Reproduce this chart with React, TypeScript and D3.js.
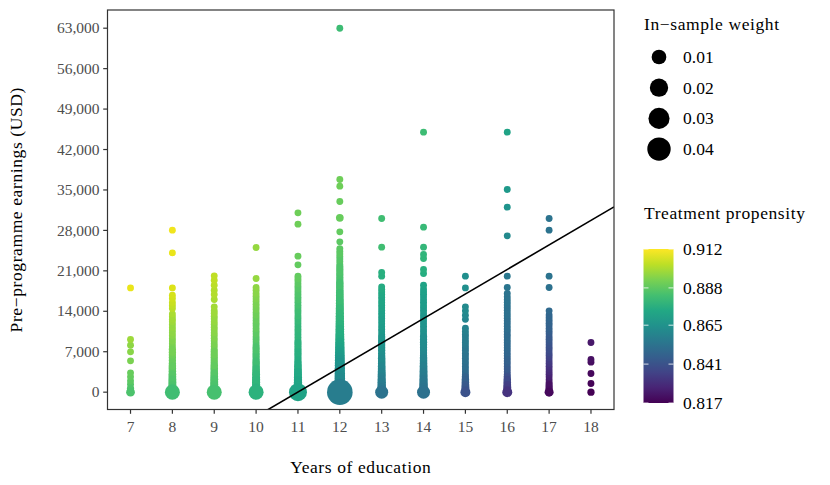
import React from "react";
import * as d3 from "d3";

// [earnings (USD), treatment propensity, in-sample weight]
type Pt = [number, number, number];

const EDUCATION = [7, 8, 9, 10, 11, 12, 13, 14, 15, 16, 17, 18];
const EARNINGS_TICKS = [0, 7000, 14000, 21000, 28000, 35000, 42000, 49000, 56000, 63000];
const WEIGHT_BREAKS = [0.01, 0.02, 0.03, 0.04];
const PROPENSITY_BREAKS = [0.817, 0.841, 0.865, 0.888, 0.912];
const FIT = { intercept: -46660, slope: 4244 };

const EDU_7: Pt[] = [
  [0, 0.885, 0.001], [650, 0.886, 0.0002], [1380, 0.887, 0.0001], [1960, 0.888, 0.0001],
  [2650, 0.889, 0.0001], [3340, 0.89, 0.0001], [5420, 0.893, 0.0001], [6980, 0.895, 0.0001],
  [8130, 0.896, 0.0001], [9120, 0.898, 0.0001], [18050, 0.909, 0.0001],
];

const EDU_8: Pt[] = [
  [0, 0.883, 0.0107], [300, 0.884, 0.0008], [750, 0.884, 0.0007], [1200, 0.885, 0.0006],
  [1700, 0.885, 0.0005], [2200, 0.886, 0.0005], [2650, 0.886, 0.0004], [3100, 0.887, 0.0004],
  [3600, 0.888, 0.0003], [4100, 0.888, 0.0003], [4550, 0.889, 0.0003], [5000, 0.889, 0.0002],
  [5500, 0.89, 0.0002], [6000, 0.89, 0.0002], [6450, 0.891, 0.0002], [6900, 0.892, 0.0002],
  [7400, 0.892, 0.0002], [7900, 0.893, 0.0001], [8400, 0.893, 0.0001], [8850, 0.894, 0.0001],
  [9300, 0.894, 0.0001], [9800, 0.895, 0.0001], [10300, 0.896, 0.0001], [10750, 0.896, 0.0001],
  [11200, 0.897, 0.0001], [11700, 0.897, 0.0001], [12200, 0.898, 0.0001], [12600, 0.899, 0.0001],
  [13040, 0.899, 0.0001], [13550, 0.9, 0.0001], [14490, 0.902, 0.0001], [15000, 0.903, 0.0001],
  [15530, 0.904, 0.0001], [16220, 0.905, 0.0001], [16790, 0.906, 0.0001], [18050, 0.907, 0.0001],
  [24110, 0.909, 0.0001], [28040, 0.91, 0.0001],
];

const EDU_9: Pt[] = [
  [0, 0.884, 0.0107], [350, 0.884, 0.0008], [800, 0.885, 0.0007], [1300, 0.885, 0.0006],
  [1750, 0.886, 0.0005], [2250, 0.886, 0.0005], [2700, 0.887, 0.0004], [3200, 0.887, 0.0004],
  [3650, 0.888, 0.0003], [4150, 0.888, 0.0003], [4600, 0.889, 0.0003], [5100, 0.889, 0.0002],
  [5550, 0.89, 0.0002], [6050, 0.89, 0.0002], [6500, 0.891, 0.0002], [7000, 0.891, 0.0002],
  [7450, 0.892, 0.0001], [7950, 0.892, 0.0001], [8400, 0.893, 0.0001], [8900, 0.893, 0.0001],
  [9350, 0.894, 0.0001], [9850, 0.894, 0.0001], [10300, 0.895, 0.0001], [10800, 0.895, 0.0001],
  [11250, 0.896, 0.0001], [11750, 0.896, 0.0001], [12200, 0.897, 0.0001], [12700, 0.897, 0.0001],
  [13150, 0.897, 0.0001], [13650, 0.898, 0.0001], [14100, 0.898, 0.0001], [14770, 0.899, 0.0001],
  [16050, 0.9, 0.0001], [16910, 0.901, 0.0001], [17660, 0.901, 0.0001], [18520, 0.902, 0.0001],
  [19390, 0.903, 0.0001], [20130, 0.903, 0.0001],
];

const EDU_10: Pt[] = [
  [0, 0.878, 0.0107], [300, 0.878, 0.0009], [750, 0.878, 0.0008], [1250, 0.879, 0.0007],
  [1700, 0.879, 0.0006], [2150, 0.879, 0.0006], [2600, 0.88, 0.0005], [3100, 0.88, 0.0005],
  [3550, 0.881, 0.0004], [4000, 0.881, 0.0004], [4500, 0.882, 0.0003], [4950, 0.882, 0.0003],
  [5400, 0.883, 0.0003], [5900, 0.883, 0.0002], [6350, 0.884, 0.0002], [6800, 0.884, 0.0002],
  [7300, 0.885, 0.0002], [7750, 0.885, 0.0002], [8200, 0.886, 0.0001], [8700, 0.886, 0.0001],
  [9150, 0.887, 0.0001], [9600, 0.887, 0.0001], [10100, 0.888, 0.0001], [10550, 0.888, 0.0001],
  [11000, 0.889, 0.0001], [11500, 0.889, 0.0001], [11950, 0.889, 0.0001], [12400, 0.89, 0.0001],
  [12900, 0.89, 0.0001], [13350, 0.891, 0.0001], [13800, 0.891, 0.0001], [14300, 0.892, 0.0001],
  [14750, 0.892, 0.0001], [15200, 0.893, 0.0001], [15700, 0.893, 0.0001], [16150, 0.894, 0.0001],
  [16600, 0.894, 0.0001], [17100, 0.895, 0.0001], [17660, 0.895, 0.0001], [18120, 0.896, 0.0001],
  [19680, 0.897, 0.0001], [25040, 0.897, 0.0001],
];

const EDU_11: Pt[] = [
  [0, 0.872, 0.019], [300, 0.872, 0.0012], [750, 0.872, 0.001], [1200, 0.873, 0.0009],
  [1650, 0.873, 0.0008], [2100, 0.873, 0.0007], [2600, 0.874, 0.0006], [3050, 0.874, 0.0005],
  [3500, 0.874, 0.0005], [3950, 0.875, 0.0004], [4450, 0.875, 0.0004], [4900, 0.875, 0.0003],
  [5350, 0.876, 0.0002], [5800, 0.876, 0.0002], [6300, 0.876, 0.0002], [6750, 0.877, 0.0002],
  [7200, 0.877, 0.0002], [7650, 0.877, 0.0002], [8150, 0.878, 0.0002], [8600, 0.878, 0.0002],
  [9050, 0.878, 0.0001], [9500, 0.879, 0.0001], [10000, 0.879, 0.0001], [10450, 0.879, 0.0001],
  [10900, 0.88, 0.0001], [11350, 0.88, 0.0001], [11850, 0.88, 0.0001], [12300, 0.881, 0.0001],
  [12750, 0.881, 0.0001], [13200, 0.882, 0.0001], [13700, 0.882, 0.0001], [14150, 0.883, 0.0001],
  [14600, 0.883, 0.0001], [15050, 0.884, 0.0001], [15550, 0.884, 0.0001], [16000, 0.885, 0.0001],
  [16450, 0.885, 0.0001], [16900, 0.886, 0.0001], [17400, 0.886, 0.0001], [17850, 0.887, 0.0001],
  [18300, 0.887, 0.0001], [18750, 0.888, 0.0001], [19250, 0.888, 0.0001], [19650, 0.889, 0.0001],
  [20080, 0.889, 0.0001], [22040, 0.889, 0.0001], [23540, 0.89, 0.0001], [29080, 0.891, 0.0001],
  [31040, 0.891, 0.0001],
];

const EDU_12: Pt[] = [
  [0, 0.857, 0.0508], [200, 0.858, 0.0036], [600, 0.859, 0.0034], [1000, 0.86, 0.0032],
  [1450, 0.861, 0.003], [1900, 0.862, 0.0029], [2350, 0.862, 0.0028], [2800, 0.863, 0.0027],
  [3250, 0.864, 0.0026], [3700, 0.864, 0.0025], [4150, 0.865, 0.0024], [4600, 0.866, 0.0023],
  [5050, 0.866, 0.0022], [5500, 0.867, 0.0021], [5950, 0.868, 0.002], [6400, 0.869, 0.0019],
  [6850, 0.87, 0.0018], [7300, 0.871, 0.0017], [7750, 0.872, 0.0016], [8200, 0.873, 0.0015],
  [8650, 0.874, 0.0014], [9100, 0.875, 0.0013], [9550, 0.876, 0.0012], [10000, 0.876, 0.0011],
  [10450, 0.877, 0.001], [10900, 0.877, 0.001], [11350, 0.878, 0.0009], [11800, 0.878, 0.0009],
  [12250, 0.879, 0.0008], [12700, 0.879, 0.0008], [13150, 0.88, 0.0007], [13600, 0.88, 0.0007],
  [14050, 0.881, 0.0006], [14500, 0.881, 0.0006], [14950, 0.881, 0.0005], [15400, 0.882, 0.0005],
  [15850, 0.882, 0.0005], [16300, 0.882, 0.0004], [16750, 0.883, 0.0004], [17200, 0.883, 0.0004],
  [17650, 0.883, 0.0003], [18100, 0.884, 0.0003], [18550, 0.884, 0.0003], [19000, 0.884, 0.0003],
  [19450, 0.885, 0.0002], [19900, 0.885, 0.0002], [20350, 0.885, 0.0002], [20800, 0.886, 0.0002],
  [21250, 0.886, 0.0002], [21700, 0.886, 0.0002], [22150, 0.887, 0.0001], [22600, 0.887, 0.0001],
  [23050, 0.887, 0.0001], [23500, 0.887, 0.0001], [23950, 0.888, 0.0001], [24400, 0.888, 0.0001],
  [24850, 0.888, 0.0001], [26020, 0.888, 0.0001], [27750, 0.889, 0.0001], [30170, 0.89, 0.0004],
  [33010, 0.89, 0.0001], [35660, 0.891, 0.0001], [36820, 0.891, 0.0001], [63000, 0.882, 0.0001],
];

const EDU_13: Pt[] = [
  [0, 0.853, 0.0065], [350, 0.854, 0.0012], [800, 0.855, 0.001], [1250, 0.856, 0.0009],
  [1700, 0.857, 0.0008], [2150, 0.857, 0.0007], [2650, 0.858, 0.0006], [3100, 0.859, 0.0005],
  [3550, 0.86, 0.0005], [4000, 0.86, 0.0004], [4450, 0.861, 0.0004], [4950, 0.862, 0.0003],
  [5400, 0.862, 0.0003], [5850, 0.863, 0.0003], [6300, 0.863, 0.0002], [6750, 0.864, 0.0002],
  [7250, 0.864, 0.0002], [7700, 0.865, 0.0002], [8150, 0.865, 0.0002], [8600, 0.866, 0.0002],
  [9050, 0.866, 0.0002], [9550, 0.867, 0.0002], [10000, 0.867, 0.0001], [10450, 0.868, 0.0001],
  [10900, 0.868, 0.0001], [11350, 0.869, 0.0001], [11850, 0.869, 0.0001], [12300, 0.87, 0.0001],
  [12750, 0.87, 0.0001], [13200, 0.87, 0.0001], [13650, 0.871, 0.0001], [14150, 0.871, 0.0001],
  [14600, 0.872, 0.0001], [15050, 0.872, 0.0001], [15500, 0.873, 0.0001], [15950, 0.873, 0.0001],
  [16450, 0.873, 0.0001], [16900, 0.874, 0.0001], [17350, 0.874, 0.0001], [17800, 0.875, 0.0001],
  [18230, 0.875, 0.0001], [20080, 0.877, 0.0001], [20720, 0.877, 0.0001], [25100, 0.883, 0.0001],
  [30070, 0.883, 0.0001],
];

const EDU_14: Pt[] = [
  [0, 0.852, 0.0065], [400, 0.853, 0.0012], [850, 0.853, 0.001], [1300, 0.854, 0.0009],
  [1750, 0.855, 0.0008], [2200, 0.855, 0.0007], [2700, 0.856, 0.0006], [3150, 0.857, 0.0005],
  [3600, 0.857, 0.0005], [4050, 0.858, 0.0004], [4500, 0.858, 0.0004], [5000, 0.859, 0.0003],
  [5450, 0.859, 0.0003], [5900, 0.86, 0.0003], [6350, 0.86, 0.0002], [6800, 0.861, 0.0002],
  [7300, 0.861, 0.0002], [7750, 0.862, 0.0002], [8200, 0.862, 0.0002], [8650, 0.863, 0.0002],
  [9100, 0.863, 0.0002], [9600, 0.864, 0.0002], [10050, 0.864, 0.0001], [10500, 0.865, 0.0001],
  [10950, 0.865, 0.0001], [11400, 0.865, 0.0001], [11900, 0.866, 0.0001], [12350, 0.866, 0.0001],
  [12800, 0.867, 0.0001], [13250, 0.867, 0.0001], [13700, 0.867, 0.0001], [14200, 0.868, 0.0001],
  [14650, 0.868, 0.0001], [15100, 0.869, 0.0001], [15550, 0.869, 0.0001], [16000, 0.869, 0.0001],
  [16500, 0.87, 0.0001], [16950, 0.87, 0.0001], [17400, 0.871, 0.0001], [17850, 0.871, 0.0001],
  [18520, 0.872, 0.0001], [20550, 0.876, 0.0001], [21240, 0.877, 0.0001], [23140, 0.879, 0.0001],
  [23830, 0.879, 0.0001], [25100, 0.88, 0.0001], [28560, 0.881, 0.0001], [45010, 0.882, 0.0001],
];

const EDU_15: Pt[] = [
  [0, 0.841, 0.0021], [350, 0.842, 0.0006], [800, 0.843, 0.0005], [1250, 0.844, 0.0004],
  [1700, 0.845, 0.0003], [2150, 0.846, 0.0003], [2650, 0.847, 0.0002], [3100, 0.849, 0.0001],
  [3550, 0.849, 0.0001], [4000, 0.85, 0.0001], [4450, 0.851, 0.0001], [4950, 0.851, 0.0001],
  [5400, 0.852, 0.0001], [5850, 0.852, 0.0001], [6300, 0.853, 0.0001], [6750, 0.853, 0.0001],
  [7250, 0.854, 0.0001], [7700, 0.854, 0.0001], [8150, 0.855, 0.0001], [8600, 0.856, 0.0001],
  [9050, 0.856, 0.0001], [9550, 0.857, 0.0001], [10000, 0.857, 0.0001], [10500, 0.858, 0.0001],
  [11080, 0.859, 0.0001], [12600, 0.86, 0.0001], [13330, 0.861, 0.0001], [14080, 0.862, 0.0001],
  [14770, 0.862, 0.0001], [18050, 0.864, 0.0001], [20080, 0.864, 0.0001],
];

const EDU_16: Pt[] = [
  [0, 0.831, 0.0021], [350, 0.832, 0.0006], [800, 0.834, 0.0005], [1250, 0.835, 0.0004],
  [1700, 0.837, 0.0003], [2150, 0.838, 0.0003], [2650, 0.84, 0.0002], [3100, 0.841, 0.0001],
  [3550, 0.842, 0.0001], [4000, 0.843, 0.0001], [4450, 0.844, 0.0001], [4950, 0.845, 0.0001],
  [5400, 0.846, 0.0001], [5850, 0.846, 0.0001], [6300, 0.847, 0.0001], [6750, 0.848, 0.0001],
  [7250, 0.848, 0.0001], [7700, 0.849, 0.0001], [8150, 0.849, 0.0001], [8600, 0.849, 0.0001],
  [9050, 0.85, 0.0001], [9550, 0.85, 0.0001], [10000, 0.85, 0.0001], [10500, 0.85, 0.0001],
  [10950, 0.851, 0.0001], [11400, 0.851, 0.0001], [11900, 0.851, 0.0001], [12350, 0.851, 0.0001],
  [12800, 0.851, 0.0001], [13250, 0.852, 0.0001], [13700, 0.852, 0.0001], [14200, 0.852, 0.0001],
  [14650, 0.852, 0.0001], [15100, 0.852, 0.0001], [15550, 0.853, 0.0001], [16000, 0.853, 0.0001],
  [16500, 0.853, 0.0001], [17080, 0.853, 0.0001], [18120, 0.854, 0.0001], [20080, 0.855, 0.0001],
  [27060, 0.862, 0.0001], [32020, 0.866, 0.0001], [35090, 0.868, 0.0001], [45010, 0.872, 0.0001],
];

const EDU_17: Pt[] = [
  [0, 0.819, 0.0012], [350, 0.82, 0.0003], [800, 0.82, 0.0002], [1250, 0.821, 0.0002],
  [1700, 0.822, 0.0001], [2150, 0.823, 0.0001], [2650, 0.825, 0.0001], [3100, 0.826, 0.0001],
  [3550, 0.828, 0.0001], [4000, 0.829, 0.0001], [4500, 0.83, 0.0001], [4950, 0.832, 0.0001],
  [5400, 0.833, 0.0001], [5900, 0.835, 0.0001], [6350, 0.836, 0.0001], [6800, 0.838, 0.0001],
  [7300, 0.839, 0.0001], [7750, 0.84, 0.0001], [8200, 0.841, 0.0001], [8700, 0.842, 0.0001],
  [9150, 0.843, 0.0001], [9600, 0.843, 0.0001], [10100, 0.844, 0.0001], [10550, 0.845, 0.0001],
  [11000, 0.846, 0.0001], [11500, 0.846, 0.0001], [11950, 0.847, 0.0001], [12400, 0.847, 0.0001],
  [12900, 0.848, 0.0001], [13350, 0.848, 0.0001], [14080, 0.849, 0.0001], [18120, 0.852, 0.0001],
  [20080, 0.853, 0.0001], [28040, 0.853, 0.0001], [30070, 0.853, 0.0001],
];

const EDU_18: Pt[] = [
  [0, 0.817, 0.0002], [1500, 0.818, 0.0001], [3240, 0.819, 0.0001], [5190, 0.82, 0.0001],
  [5660, 0.821, 0.0001], [8600, 0.823, 0.0001],
];

const COLUMNS: Pt[][] = [EDU_7, EDU_8, EDU_9, EDU_10, EDU_11, EDU_12, EDU_13, EDU_14, EDU_15, EDU_16, EDU_17, EDU_18];

const W = 830;
const H = 485;
const PANEL = { left: 107.5, right: 614, top: 10, bottom: 409.5 };
const SERIF = "'Liberation Serif', 'Times New Roman', serif";
const INK = "#333333";

export default function App() {
  const x = d3.scaleLinear().domain([6.45, 18.55]).range([PANEL.left, PANEL.right]);
  const y = d3.scaleLinear().domain([-3000, 66150]).range([PANEL.bottom, PANEL.top]);
  const r = d3.scaleSqrt().domain([0, 0.04]).range([3.0, 11.7]);
  const colour = d3.scaleSequential(d3.interpolateViridis).domain([0.817, 0.912]);
  const fmt = d3.format(",");

  const points = COLUMNS.flatMap((col, i) =>
    col.map(([earn, prop, w]) => ({ edu: EDUCATION[i], earn, prop, w })),
  ).sort((a, b) => a.w - b.w);

  const xs = x.domain();
  const fitLine = d3
    .line<number>()
    .x((e) => x(e))
    .y((e) => y(FIT.intercept + FIT.slope * e))([xs[0], xs[1]]);

  // colour bar
  const bar = { x: 643.5, w: 30, top: 249, bottom: 403 };
  const barY = d3.scaleLinear().domain([0.817, 0.912]).range([bar.bottom, bar.top]);
  const stops = d3.range(0, 1.0001, 0.1);

  return (
    <svg width={W} height={H} style={{ position: "absolute", left: 0, top: 0, background: "#fff" }}>
      <defs>
        <clipPath id="panel-clip">
          <rect x={PANEL.left} y={PANEL.top} width={PANEL.right - PANEL.left} height={PANEL.bottom - PANEL.top} />
        </clipPath>
        <linearGradient id="viridis-bar" x1={0} x2={0} y1={1} y2={0}>
          {stops.map((t) => (
            <stop key={t} offset={`${t * 100}%`} stopColor={d3.interpolateViridis(t)} />
          ))}
        </linearGradient>
      </defs>

      <rect x={0} y={0} width={W} height={H} fill="#fff" />

      <g clipPath="url(#panel-clip)">
        {points.map((p, i) => (
          <circle key={i} cx={x(p.edu)} cy={y(p.earn)} r={r(p.w)} fill={colour(p.prop)} />
        ))}
        <path d={fitLine ?? ""} fill="none" stroke="#000" strokeWidth={1.6} />
      </g>

      <rect
        x={PANEL.left}
        y={PANEL.top}
        width={PANEL.right - PANEL.left}
        height={PANEL.bottom - PANEL.top}
        fill="none"
        stroke={INK}
        strokeWidth={1.2}
      />

      {/* y axis */}
      {EARNINGS_TICKS.map((v) => (
        <g key={v}>
          <line x1={PANEL.left - 4.3} x2={PANEL.left} y1={y(v)} y2={y(v)} stroke={INK} strokeWidth={1.2} />
          <text x={PANEL.left - 8} y={y(v) + 5.2} textAnchor="end" fontFamily={SERIF} fontSize={15.5} fill="#4d4d4d">
            {fmt(v)}
          </text>
        </g>
      ))}

      {/* x axis */}
      {EDUCATION.map((e) => (
        <g key={e}>
          <line x1={x(e)} x2={x(e)} y1={PANEL.bottom} y2={PANEL.bottom + 4.3} stroke={INK} strokeWidth={1.2} />
          <text x={x(e)} y={431.5} textAnchor="middle" fontFamily={SERIF} fontSize={15.5} fill="#4d4d4d">
            {e}
          </text>
        </g>
      ))}

      <text
        x={(PANEL.left + PANEL.right) / 2}
        y={472.5}
        textAnchor="middle"
        fontFamily={SERIF}
        fontSize={17.5}
        letterSpacing={0.6}
      >
        Years of education
      </text>
      <text
        transform={`translate(22, ${(PANEL.top + PANEL.bottom) / 2}) rotate(-90)`}
        textAnchor="middle"
        fontFamily={SERIF}
        fontSize={17.5}
        letterSpacing={0.6}
      >
        Pre−programme earnings (USD)
      </text>

      {/* size legend */}
      <text x={644} y={30} fontFamily={SERIF} fontSize={17.5} letterSpacing={0.6}>
        In−sample weight
      </text>
      {WEIGHT_BREAKS.map((w, i) => {
        const cy = 57 + i * 30.7;
        return (
          <g key={w}>
            <circle cx={659} cy={cy} r={r(w)} fill="#000" />
            <text x={683} y={cy + 5.8} fontFamily={SERIF} fontSize={17.5}>
              {w.toFixed(2)}
            </text>
          </g>
        );
      })}

      {/* colour legend */}
      <text x={644} y={218.5} fontFamily={SERIF} fontSize={17.5} letterSpacing={0.6}>
        Treatment propensity
      </text>
      <rect x={bar.x} y={bar.top} width={bar.w} height={bar.bottom - bar.top} fill="url(#viridis-bar)" />
      {PROPENSITY_BREAKS.map((p) => (
        <g key={p}>
          <line x1={bar.x} x2={bar.x + 5} y1={barY(p)} y2={barY(p)} stroke="#fff" strokeWidth={1} opacity={0.8} />
          <line x1={bar.x + bar.w - 5} x2={bar.x + bar.w} y1={barY(p)} y2={barY(p)} stroke="#fff" strokeWidth={1} opacity={0.8} />
          <text x={683} y={barY(p) + 5.8} fontFamily={SERIF} fontSize={17.5}>
            {p.toFixed(3)}
          </text>
        </g>
      ))}
    </svg>
  );
}
